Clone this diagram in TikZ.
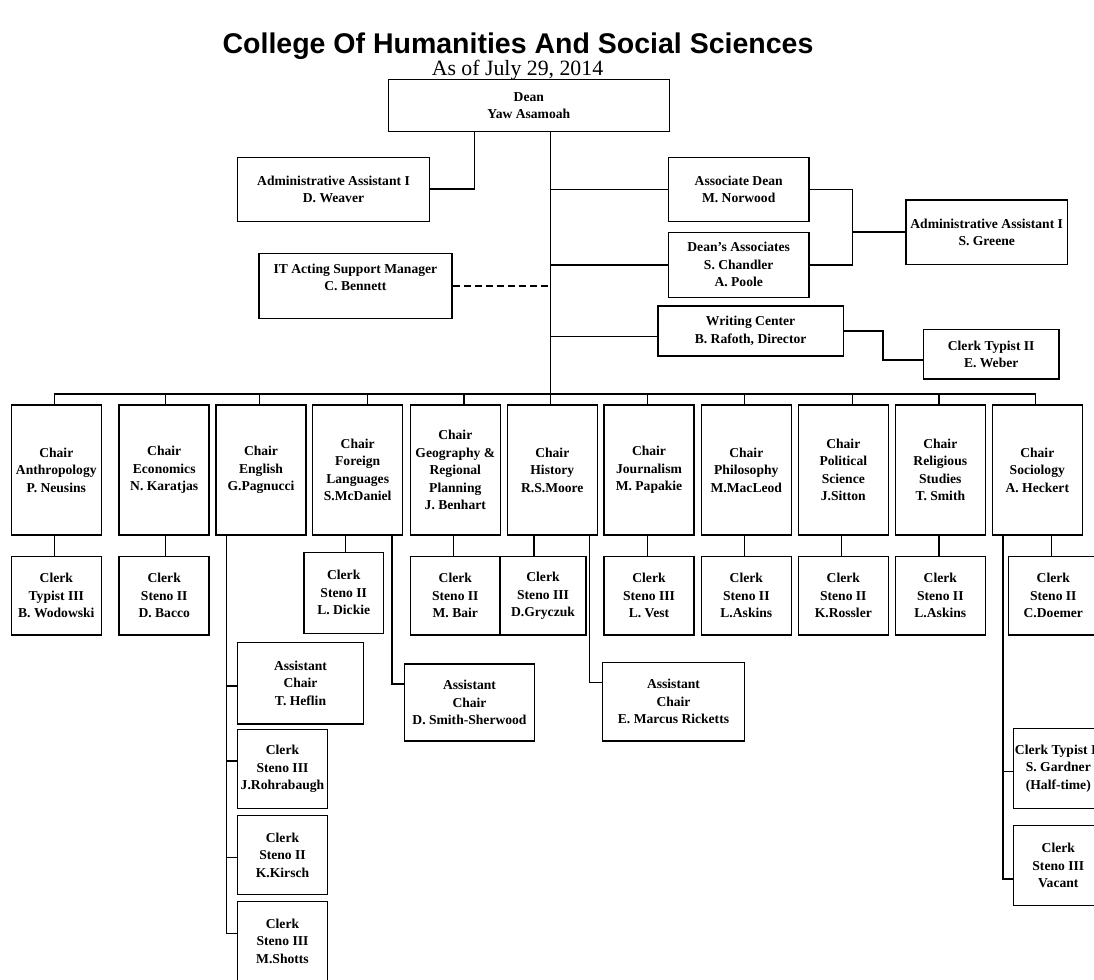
\documentclass[tikz,border=0pt]{standalone}
\usepackage{fontspec}
\setmainfont{Liberation Serif}
\newfontfamily\titlefont{Liberation Sans}
\begin{document}
\begin{tikzpicture}[x=1pt,y=-1pt,
  box/.style={draw, line width=1.5pt, inner sep=0pt, align=center, text=black,
    font=\bfseries\fontsize{13.6}{17.5}\selectfont},
  chairbox/.style={box, minimum width=90pt, minimum height=130pt},
  clerkbox/.style={box, minimum width=90pt, minimum height=78.3pt},
  conn/.style={line width=1.5pt, black},
  dashconn/.style={conn, dash pattern=on 7pt off 4pt}]
\useasboundingbox (0,0) rectangle (1094,979);
\clip (0,0) rectangle (1094,979);

% titles
\node[anchor=base, font=\titlefont\bfseries\fontsize{28.5}{32}\selectfont] (title) at (518,54) {College Of Humanities And Social Sciences};
\node[anchor=base, font=\fontsize{21.8}{24}\selectfont] (sub) at (517.5,75.5) {As of July 29, 2014};

% top management
\node[box, minimum width=281pt, minimum height=52.4pt] (dean) at (528.8,105.5) {Dean\\Yaw Asamoah};
\node[box, minimum width=192.3pt, minimum height=64.4pt] (admin1) at (333.5,189.5) {Administrative Assistant I\\D. Weaver};
\node[box, minimum width=140.7pt, minimum height=64.4pt] (assoc) at (738.7,189.5) {Associate Dean\\M. Norwood};
\node[box, minimum width=140.7pt, minimum height=65pt] (dassoc) at (738.7,264.8) {Dean’s Associates\\S. Chandler\\A. Poole};
\node[box, minimum width=161.3pt, minimum height=64.3pt] (greene) at (986.7,232.2) {Administrative Assistant I\\S. Greene};
\node[box, minimum width=193.1pt, minimum height=65pt] (it) at (355.4,285.8) {IT Acting Support Manager\\C. Bennett\\\mbox{}};
\node[box, minimum width=185.4pt, minimum height=50pt] (wc) at (750.6,331) {Writing Center\\B. Rafoth, Director};
\node[box, minimum width=135.7pt, minimum height=49.7pt] (weber) at (991.2,354.2) {Clerk Typist II\\E. Weber};

% chairs
\node[chairbox] (anth) at (56.3,470) {Chair\\Anthropology\\P. Neusins};
\node[chairbox] (econ) at (164.2,470) {Chair\\Economics\\N. Karatjas};
\node[chairbox] (engl) at (261,470) {Chair\\English\\G.Pagnucci};
\node[chairbox] (flang) at (357.7,470) {Chair\\Foreign\\Languages\\S.McDaniel};
\node[chairbox] (geog) at (455.3,470) {Chair\\Geography \&\\Regional\\Planning\\J. Benhart};
\node[chairbox] (hist) at (552.3,470) {Chair\\History\\R.S.Moore};
\node[chairbox] (journ) at (649,470) {Chair\\Journalism\\M. Papakie};
\node[chairbox] (phil) at (746.3,470) {Chair\\Philosophy\\M.MacLeod};
\node[chairbox] (polsci) at (843.3,470) {Chair\\Political\\Science\\J.Sitton};
\node[chairbox] (relig) at (940.3,470) {Chair\\Religious\\Studies\\T. Smith};
\node[chairbox] (socio) at (1037.3,470) {Chair\\Sociology\\A. Heckert};

% clerks under chairs
\node[clerkbox] (c1) at (56.3,595.8) {Clerk\\Typist III\\B. Wodowski};
\node[clerkbox] (c2) at (164.2,595.8) {Clerk\\Steno II\\D. Bacco};
\node[clerkbox, minimum width=79.3pt, minimum height=81pt] (c3) at (343.7,592.8) {Clerk\\Steno II\\L. Dickie};
\node[clerkbox, minimum width=89.3pt] (c4) at (455.3,595.8) {Clerk\\Steno II\\M. Bair};
\node[clerkbox, minimum width=86pt] (c5) at (543,595.8) {Clerk\\Steno III\\D.Gryczuk};
\node[clerkbox] (c6) at (649,595.8) {Clerk\\Steno III\\L. Vest};
\node[clerkbox] (c7) at (746.3,595.8) {Clerk\\Steno II\\L.Askins};
\node[clerkbox] (c8) at (843.3,595.8) {Clerk\\Steno II\\K.Rossler};
\node[clerkbox] (c9) at (940.3,595.8) {Clerk\\Steno II\\L.Askins};
\node[clerkbox] (c10) at (1053.3,595.8) {Clerk\\Steno II\\C.Doemer};

% assistant chairs
\node[box, minimum width=126pt, minimum height=81.3pt] (heflin) at (300.5,683.3) {Assistant\\Chair\\T. Heflin};
\node[box, minimum width=130.3pt, minimum height=77pt] (smith) at (469.5,702.5) {Assistant\\Chair\\D. Smith-Sherwood};
\node[box, minimum width=142pt, minimum height=78.7pt] (ricketts) at (673.5,701.7) {Assistant\\Chair\\E. Marcus Ricketts};

% English clerks
\node[clerkbox, minimum width=90.4pt, minimum height=79pt] (rohr) at (282.5,768.8) {Clerk\\Steno III\\J.Rohrabaugh};
\node[clerkbox, minimum width=90.4pt, minimum height=78.6pt] (kirsch) at (282.5,855) {Clerk\\Steno II\\K.Kirsch};
\node[clerkbox, minimum width=90.4pt, minimum height=78.6pt] (shotts) at (282.5,941) {Clerk\\Steno III\\M.Shotts};

% Sociology extra staff
\node[clerkbox, minimum height=80pt] (gardner) at (1058.3,768.3) {Clerk Typist II\\S. Gardner\\(Half-time)};
\node[clerkbox, minimum height=79.6pt] (vacant) at (1058.3,865.5) {Clerk\\Steno III\\Vacant};

% ---- connectors ----
\coordinate (T) at (550.3,394);
\coordinate (busL) at (54.3,394);
\coordinate (busR) at (1035.7,394);
\draw[conn] (dean.south -| T) -- (T);
\draw[conn] (busL) -- (busR);

\coordinate (a1) at (474.5,189);
\draw[conn] (dean.south -| a1) -- (a1) -- (a1 -| admin1.east);
\draw[conn] (assoc.west -| T) -- (assoc.west);
\draw[conn] (dassoc.west -| T) -- (dassoc.west);
\draw[dashconn] (it.east) -- (it.east -| T);
\coordinate (wcj) at (550.3,336.7);
\draw[conn] (wcj) -- (wcj -| wc.west);

\coordinate (g1) at (852.3,189.5);
\draw[conn] (assoc.east) -- (g1) -- (g1 |- dassoc.east) -- (dassoc.east);
\draw[conn] (g1 |- greene.west) -- (greene.west);

\coordinate (w1) at (883,331);
\coordinate (w2) at (883,360);
\draw[conn] (wc.east |- w1) -- (w1) -- (w2) -- (w2 -| weber.west);

% drops to chairs
\foreach \x/\n in {54.3/anth,165.7/econ,259.7/engl,367.7/flang,464/geog,550.3/hist,647.3/journ,744.3/phil,852.7/polsci,939/relig,1035.7/socio}{
  \coordinate (bp) at (\x,394);
  \draw[conn] (bp) -- (bp |- \n.north);
}

% chair to clerk
\foreach \x/\n/\m in {54.3/anth/c1,165.7/econ/c2,345.7/flang/c3,453.3/geog/c4,534/hist/c5,647.3/journ/c6,744.3/phil/c7,841.7/polsci/c8,939/relig/c9,1051.7/socio/c10}{
  \coordinate (cp) at (\x,0);
  \draw[conn] (cp |- \n.south) -- (cp |- \m.north);
}

% English line
\coordinate (eb) at (226.7,933.3);
\coordinate (e1) at (226.7,686);
\coordinate (e2) at (226.7,761);
\coordinate (e3) at (226.7,857.7);
\draw[conn] (eb |- engl.south) -- (eb) -- (eb -| shotts.west);
\draw[conn] (e1) -- (e1 -| heflin.west);
\draw[conn] (e2) -- (e2 -| rohr.west);
\draw[conn] (e3) -- (e3 -| kirsch.west);

% Foreign languages -> assistant chair
\coordinate (f1) at (392.2,684);
\draw[conn] (f1 |- flang.south) -- (f1) -- (f1 -| smith.west);

% History -> assistant chair
\coordinate (h1) at (589.3,682.3);
\draw[conn] (h1 |- hist.south) -- (h1) -- (h1 -| ricketts.west);

% Sociology line
\coordinate (s1) at (1003,879);
\coordinate (s2) at (1003,771.7);
\draw[conn] (s1 |- socio.south) -- (s1) -- (s1 -| vacant.west);
\draw[conn] (s2) -- (s2 -| gardner.west);
\end{tikzpicture}
\end{document}
